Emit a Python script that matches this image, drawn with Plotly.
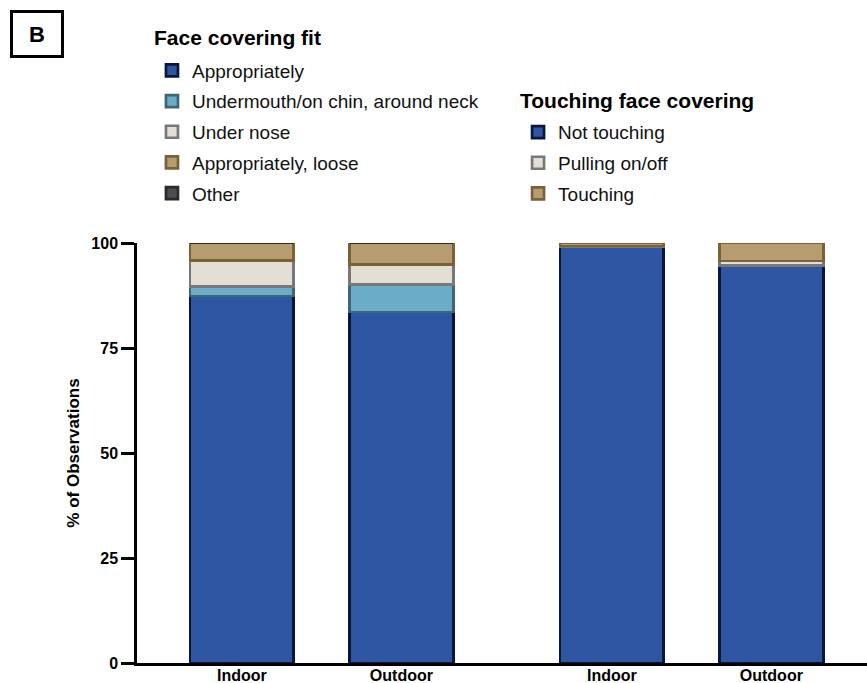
import plotly.graph_objects as go

# ---- data ----
groups = ["Indoor", "Outdoor", "Indoor", "Outdoor"]
fit_labels = ["Appropriately", "Undermouth/on chin, around neck", "Under nose",
              "Appropriately, loose", "Other"]
fit_values = {
    "Appropriately": [87.4, 83.6],
    "Undermouth/on chin, around neck": [2.2, 6.6],
    "Under nose": [6.2, 4.6],
    "Appropriately, loose": [4.2, 5.2],
    "Other": [0.0, 0.0],
}
touch_labels = ["Not touching", "Pulling on/off", "Touching"]
touch_values = {
    "Not touching": [99.2, 94.6],
    "Pulling on/off": [0.1, 1.1],
    "Touching": [0.7, 4.3],
}
y_ticks = [0, 25, 50, 75, 100]

# ---- styles ----
fills = {
    "Appropriately": "#2F56A3", "Undermouth/on chin, around neck": "#6BADC8",
    "Under nose": "#E4DFD5", "Appropriately, loose": "#B69C6F", "Other": "#4B4E53",
    "Not touching": "#2F56A3", "Pulling on/off": "#E4DFD5", "Touching": "#B69C6F",
}
lines = {
    "Appropriately": "#0A173A", "Undermouth/on chin, around neck": "#3D6677",
    "Under nose": "#787878", "Appropriately, loose": "#7A6139", "Other": "#2A2A2A",
    "Not touching": "#0A173A", "Pulling on/off": "#787878", "Touching": "#7A6139",
}

gap = 1.32
xpos_fit = [0, 1]
xpos_touch = [1 + gap, 2 + gap]
bar_w = 0.65
FONT = "Liberation Sans, Arial, sans-serif"

fig = go.Figure()
for i, name in enumerate(fit_labels):
    fig.add_trace(go.Bar(
        x=xpos_fit, y=fit_values[name], name=name, width=bar_w,
        marker=dict(color=fills[name], line=dict(color=lines[name], width=2.7)),
        legend="legend", legendgroup="f%d" % i,
    ))
for i, name in enumerate(touch_labels):
    fig.add_trace(go.Bar(
        x=xpos_touch, y=touch_values[name], name=name, width=bar_w,
        marker=dict(color=fills[name], line=dict(color=lines[name], width=2.7)),
        legend="legend2", legendgroup="t%d" % i,
    ))

legend_common = dict(
    font=dict(family=FONT, size=19, color="#111"),
    bgcolor="rgba(0,0,0,0)", tracegroupgap=3, traceorder="grouped",
    xanchor="left", yanchor="top", itemclick=False, itemwidth=30,
)
fig.update_layout(
    barmode="stack",
    width=867, height=683,
    margin=dict(l=137, r=0, t=243, b=20),
    plot_bgcolor="white", paper_bgcolor="white",
    font=dict(family=FONT, color="black"),
    showlegend=True,
    legend=dict(x=0.0205, y=1.456, **legend_common),
    legend2=dict(x=0.522, y=1.309, **legend_common),
    xaxis=dict(
        range=[-0.658, 3.92], tickvals=xpos_fit + xpos_touch,
        ticktext=["<b>%s</b>" % g for g in groups],
        tickfont=dict(size=16, family=FONT, color="black"),
        showline=True, linecolor="black", linewidth=2.5, ticks="", showgrid=False,
        zeroline=False, automargin=False, ticklabelstandoff=-4,
    ),
    yaxis=dict(
        range=[0, 100], tickvals=y_ticks, ticktext=["<b>%d</b>" % v for v in y_ticks],
        tickfont=dict(size=16, family=FONT, color="black"),
        showline=True, linecolor="black", linewidth=2.5, ticks="outside", ticklen=13,
        tickwidth=2.5, tickcolor="black", showgrid=False, zeroline=False, automargin=False,
        title=dict(text="<b>% of Observations</b>", font=dict(size=17, family=FONT), standoff=8),
    ),
    annotations=[
        dict(text="<b>B</b>", xref="paper", yref="paper", x=-0.174, y=1.555,
             xanchor="left", yanchor="top", showarrow=False,
             font=dict(size=22, family=FONT, color="black"),
             bordercolor="black", borderwidth=3, borderpad=6, width=36, height=30),
        dict(text="<b>Face covering fit</b>", xref="paper", yref="paper", x=0.0205, y=1.49,
             xanchor="left", yanchor="middle", showarrow=False,
             font=dict(size=21, family=FONT, color="black")),
        dict(text="<b>Touching face covering</b>", xref="paper", yref="paper", x=0.522, y=1.34,
             xanchor="left", yanchor="middle", showarrow=False,
             font=dict(size=21, family=FONT, color="black")),
    ],
)

fig.write_html("out.html", config={"displayModeBar": False},
               post_script="document.body.style.margin='0';document.body.style.padding='0';")
